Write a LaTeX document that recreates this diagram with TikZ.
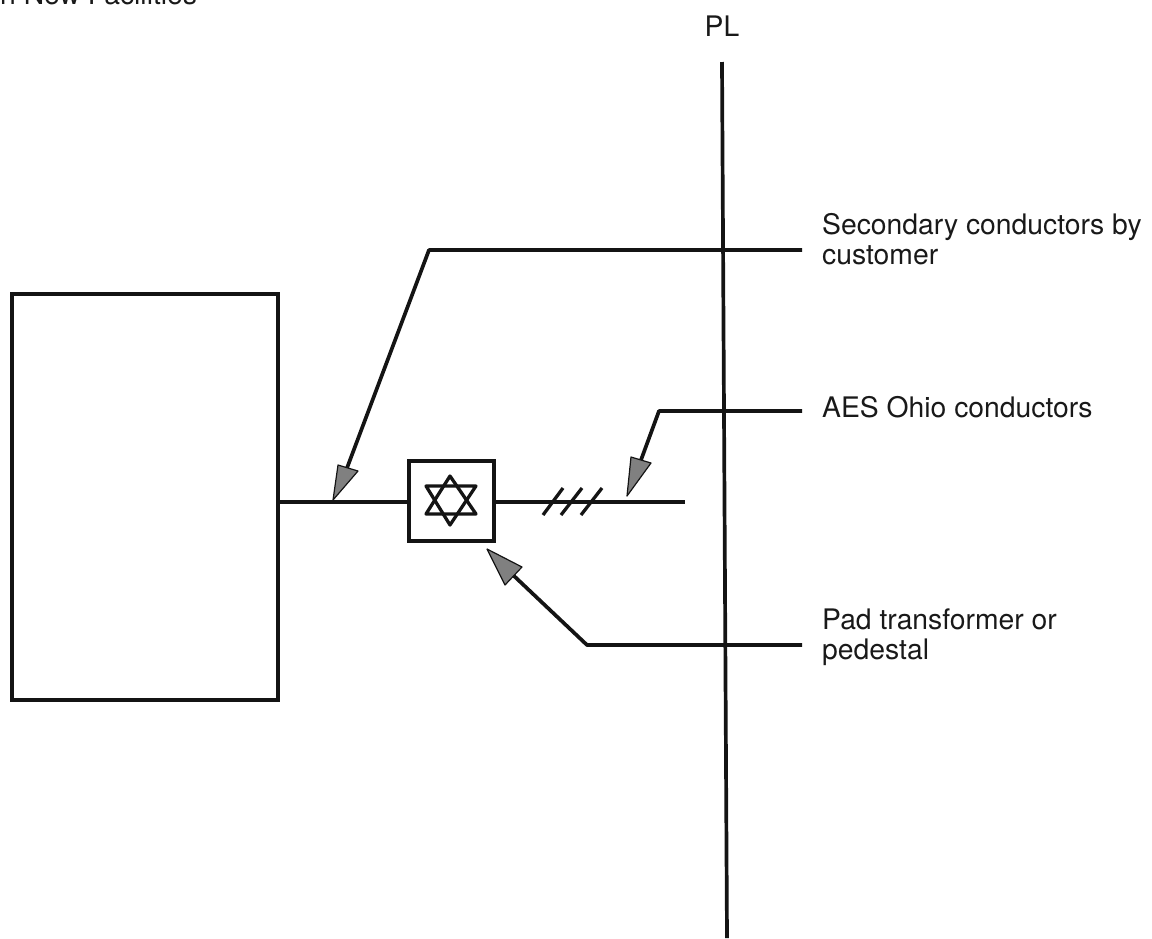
\documentclass[tikz,border=0pt]{standalone}
\usepackage{fontspec}
\setmainfont{TeX Gyre Heros}
\tikzset{
  ln/.style={line width=3.7pt,draw=black!92,line join=round},
  thin ln/.style={line width=3.3pt,draw=black!92,line join=round},
  head/.style={fill=black!50,draw=black!92,line width=1.2pt,line join=round},
  lbl/.style={anchor=base west,font=\fontsize{28.3}{30}\selectfont,text=black!90,inner sep=0pt,align=left},
  boxy/.style={draw=black!92,inner sep=0pt,outer sep=0pt,anchor=north west}
}
\begin{document}
\begin{tikzpicture}[x=1pt,y=-1pt]
\useasboundingbox (0,0) rectangle (1152,938);
\node[lbl] (title) at (0,4) {n New Facilities};
\node[lbl,anchor=base] (pl) at (722,36) {PL};
\coordinate (pltop) at (722,62);
\coordinate (plbot) at (727,938);
\draw[ln] (pltop) -- (plbot);
\node[boxy,line width=3.3pt,minimum width=266pt,minimum height=406pt] (bldg) at (12,294) {};
\node[boxy,line width=3.3pt,minimum width=85pt,minimum height=80pt] (xf) at (409,461) {};
% star
\coordinate (sc) at (450,502);
\draw[thin ln] (450,476) -- (476,514) -- (426,514) -- cycle;
\draw[thin ln] (450,525) -- (476,486) -- (426,486) -- cycle;
% lines
\coordinate (busL) at (685,502);
\draw[ln] (bldg.east |- sc) -- (xf.west |- sc);
\draw[ln] (xf.east |- sc) -- (busL);
\draw[thin ln] (543,515) -- (563,488);
\draw[thin ln] (561,515) -- (582,488);
\draw[thin ln] (581,515) -- (602,488);
% labels
\node[lbl] (l1) at (822,264) {Secondary conductors by\\customer};
\node[lbl] (l2) at (822,417) {AES Ohio conductors};
\node[lbl] (l3) at (822,659) {Pad transformer or\\pedestal};
% leaders
\coordinate (e1) at (802,250);
\coordinate (k1) at (429,250);
\coordinate (t1) at (333,500);
\draw[ln] (e1) -- (k1) -- (347,468);
\draw[head] (t1) -- (338,465) -- (358,471) -- cycle;
\coordinate (e2) at (802,411);
\coordinate (k2) at (659,411);
\coordinate (t2) at (627,496);
\draw[ln] (e2) -- (k2) -- (641,460);
\draw[head] (t2) -- (631,457) -- (651,463) -- cycle;
\coordinate (e3) at (802,645);
\coordinate (k3) at (587,645);
\coordinate (t3) at (487,549);
\draw[ln] (e3) -- (k3) -- (513,575);
\draw[head] (t3) -- (522,567) -- (505,585) -- cycle;
\end{tikzpicture}
\end{document}
